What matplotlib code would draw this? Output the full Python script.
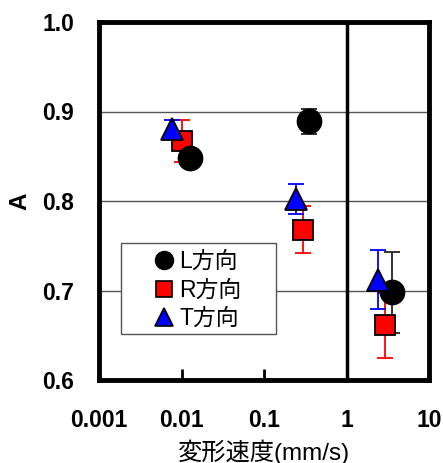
import matplotlib
matplotlib.use("Agg")
import matplotlib.pyplot as plt
from matplotlib.lines import Line2D
from matplotlib.patches import Rectangle
import numpy as np

# Data.
L_x = [0.0127, 0.354, 3.53]
L_y = [0.848, 0.889, 0.698]
L_err = [0.0, 0.014, 0.045]

R_x = [0.010, 0.294, 2.93]
R_y = [0.867, 0.768, 0.661]
R_err = [0.023, 0.026, 0.036]

T_x = [0.0076, 0.245, 2.43]
T_y = [0.881, 0.802, 0.712]
T_err = [0.010, 0.017, 0.033]

xticks = [0.001, 0.01, 0.1, 1, 10]
xticklabels = ["0.001", "0.01", "0.1", "1", "10"]
yticks = [0.6, 0.7, 0.8, 0.9, 1.0]
yticklabels = ["0.6", "0.7", "0.8", "0.9", "1.0"]
labels = ["L方向", "R方向", "T方向"]

fonts = ["Liberation Sans", "Noto Sans CJK JP", "DejaVu Sans"]
plt.rcParams["font.family"] = fonts

fig = plt.figure(figsize=(4.43, 4.63), dpi=100)
ax = fig.add_axes([99/443, 1-380/463, 330/443, 358/463])

ax.set_xscale("log")
ax.set_xlim(0.001, 10)
ax.set_ylim(0.6, 1.0)

# Grid lines at y and vertical line at x=1.
for y in yticks[1:-1]:
    ax.axhline(y, color="#555555", lw=1.0, zorder=1)
ax.axvline(1, color="black", lw=2.5, zorder=1)

# Error bars first (behind all markers).
ebdefs = dict(fmt="none", capsize=5.5, elinewidth=1.3, capthick=1.3, zorder=2)
ax.errorbar(L_x, L_y, yerr=L_err, ecolor="#222222", **ebdefs)
ax.errorbar(R_x, R_y, yerr=R_err, ecolor="red", **ebdefs)
ax.errorbar(T_x, T_y, yerr=T_err, ecolor="blue", **ebdefs)

ax.plot(R_x, R_y, "s", ms=14, mfc="red", mec="black", mew=1.3, ls="none", zorder=3)
ax.plot(L_x, L_y, "o", ms=17.5, mfc="black", mec="black", mew=1.0, ls="none", zorder=3)
ax.plot(T_x, T_y, "^", ms=16.5, mfc="blue", mec="black", mew=1.3, ls="none", zorder=3)

ax.set_xticks(xticks, xticklabels)
ax.minorticks_off()
ax.set_yticks(yticks, yticklabels)
for t in ax.get_xticklabels() + ax.get_yticklabels():
    t.set_fontweight("bold")
    t.set_fontsize(16.5)
    t.set_family(fonts)
ax.tick_params(axis="x", direction="in", length=8, width=2, pad=21, top=False)
ax.tick_params(axis="y", length=0, pad=18)

for s in ax.spines.values():
    s.set_linewidth(3.5)

ax.set_xlabel("変形速度(mm/s)", fontsize=17.5, labelpad=5)
ax.set_ylabel("A", fontsize=17.5, fontweight="bold", labelpad=8)

# Legend box drawn separately, legend entries without frame.
box = Rectangle((0.0658, 0.1277), 0.4697, 0.2558, transform=ax.transAxes,
                facecolor="white", edgecolor="#555555", lw=1.0, zorder=2.4)
ax.add_patch(box)

handles = [
    Line2D([0], [0], marker="o", ls="none", ms=13, mfc="black", mec="black"),
    Line2D([0], [0], marker="s", ls="none", ms=12, mfc="red", mec="black", mew=1.2),
    Line2D([0], [0], marker="^", ls="none", ms=12.5, mfc="blue", mec="black", mew=1.2),
]
leg = ax.legend(handles, labels, loc="center left", bbox_to_anchor=(0.155, 0.251),
                fontsize=16.5, frameon=False, borderpad=0, handletextpad=0.06,
                handlelength=1.2, labelspacing=0.24, borderaxespad=0)
leg.set_zorder(2.5)

fig.savefig("out.png", dpi=100)
